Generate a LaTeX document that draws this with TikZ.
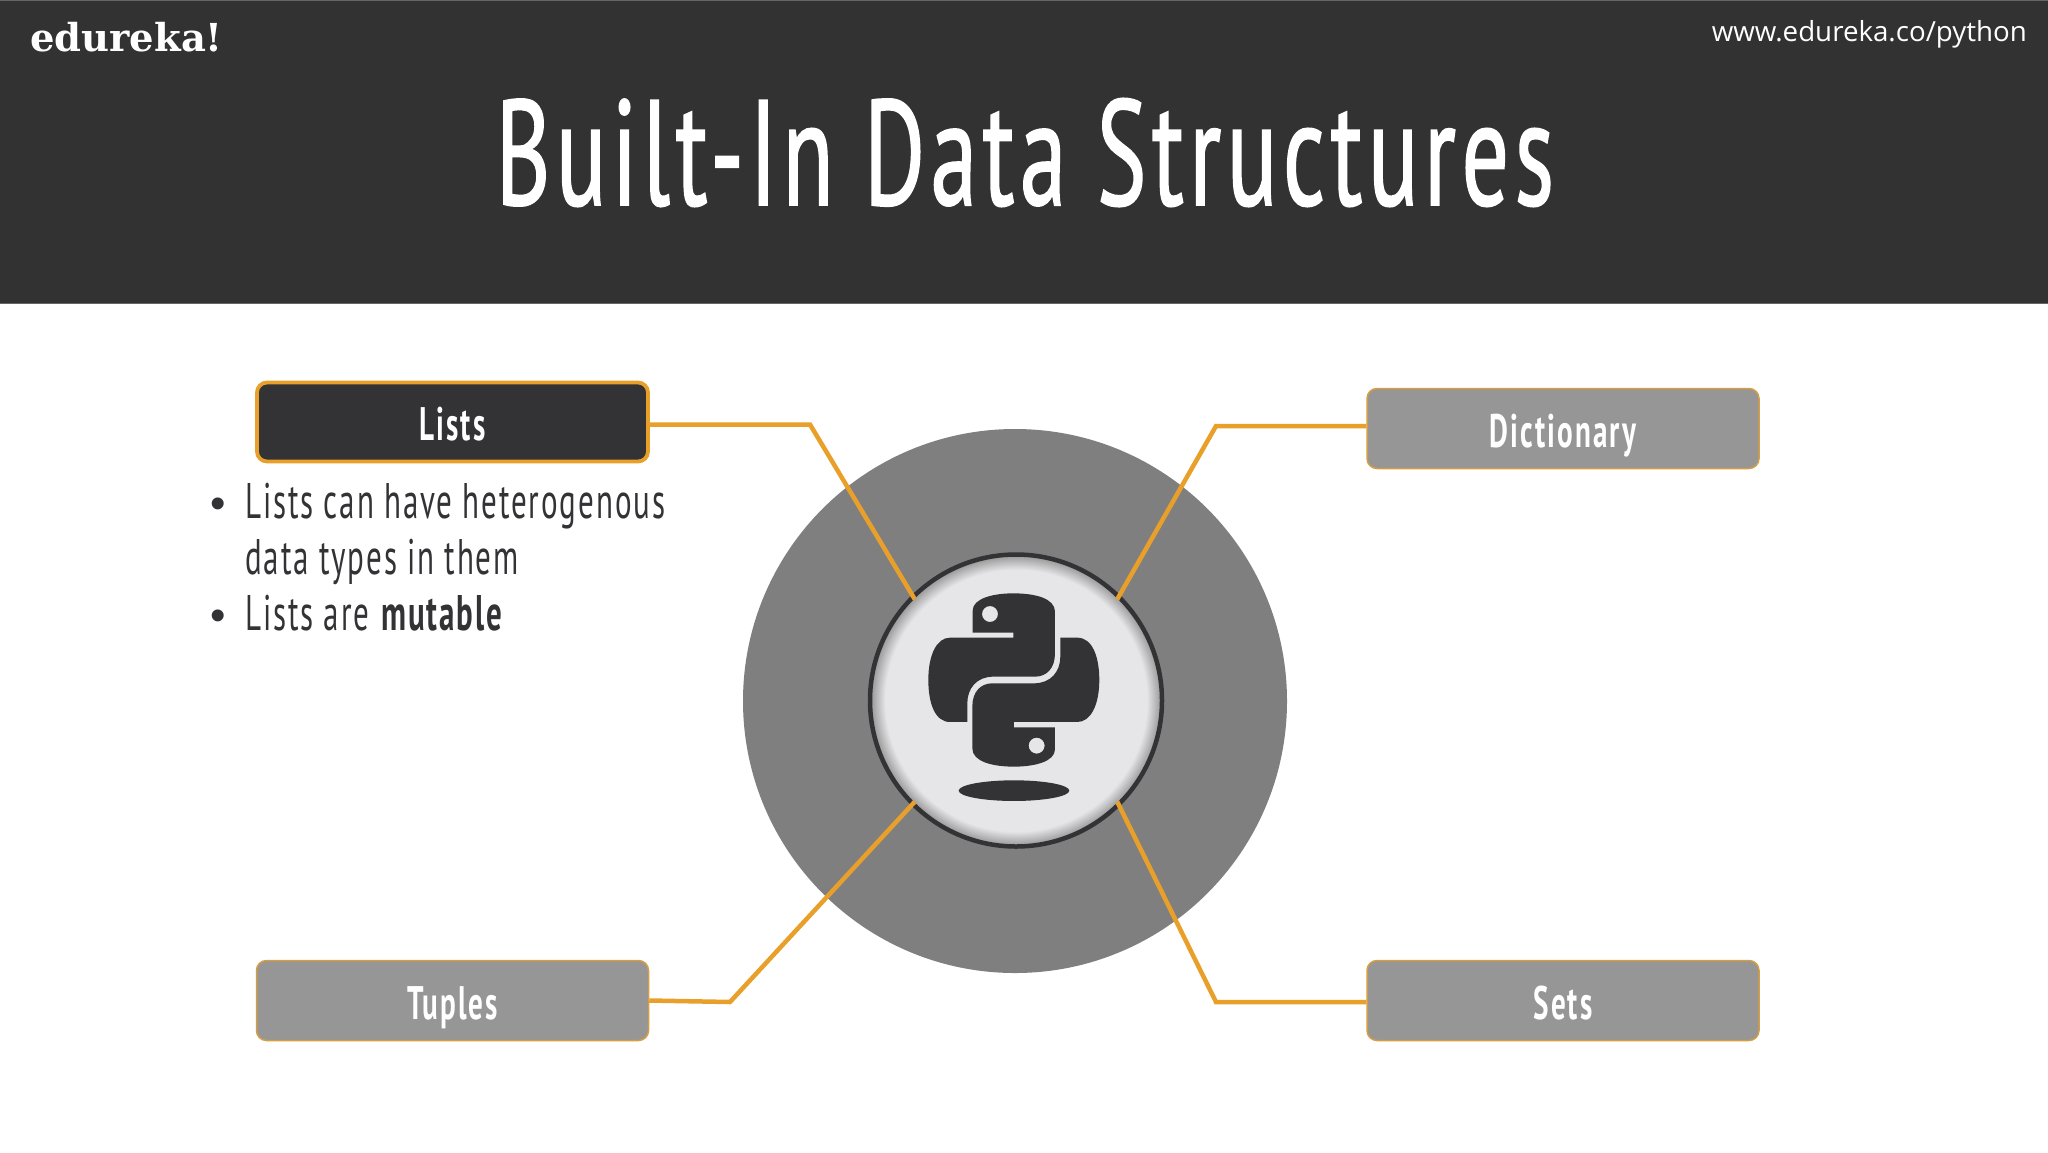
\documentclass[tikz,border=0pt]{standalone}
\usepackage{fontspec}
\usetikzlibrary{shapes.geometric}
\setmainfont{Liberation Sans}
\newfontfamily\agency[FakeStretch=0.62,LetterSpace=3.8]{PT Sans}
\newfontfamily\agencytitle[FakeStretch=0.62,LetterSpace=3.9,FakeBold=1]{PT Sans}
\newfontfamily\agencylab[FakeStretch=0.62,LetterSpace=4.4]{PT Sans}
\newfontfamily\slab{DejaVu Serif}
\newfontfamily\urlfont{Open Sans}
\definecolor{hdr}{HTML}{323232}
\definecolor{ink}{HTML}{333235}
\definecolor{ora}{HTML}{E9A02B}
\definecolor{boxg}{HTML}{969696}
\definecolor{disc}{HTML}{7F7F80}
\definecolor{lite}{HTML}{E6E5E8}
\pgfdeclareradialshading{vig}{\pgfpoint{0bp}{0bp}}{color(0bp)=(lite); color(22.4bp)=(lite); color(25bp)=(black!42)}
\tikzset{
 tagbox/.style={draw=ora!75!boxg,line width=1.5pt,fill=boxg,rounded corners=10pt,minimum width=392pt,minimum height=80pt,inner sep=0pt,text=white,font=\agencylab\bfseries\fontsize{47}{47}\selectfont,text height=37pt,text depth=0pt},
 tagact/.style={tagbox,draw=ora,line width=3.8pt,fill=ink,minimum width=391pt,minimum height=79pt},
 link/.style={draw=ora,line width=4.5pt,line join=miter},
 body/.style={anchor=base west,inner sep=0pt,text=ink,font=\agency\fontsize{50}{50}\selectfont},
 dot/.style={anchor=base,inner sep=0pt,text=ink,font=\fontsize{44}{44}\selectfont}
}
\begin{document}
\begin{tikzpicture}[x=1pt,y=-1pt]
\useasboundingbox (0,0) rectangle (2048,1152);
\fill[white] (0,0) rectangle (2048,1152);
\fill[hdr] (0,0) rectangle (2048,303);
\draw[black!60,line width=1.5pt] (0,303.5) -- (2048,303.5);
\draw[black!60,line width=1.5pt] (0,0.7) -- (2048,0.7);
\node[anchor=base west,inner sep=0pt,text=white,font=\slab\bfseries\fontsize{38.5}{38.5}\selectfont] (brand) at (30,51) {edureka!};
\node[anchor=base east,inner sep=0pt,text=white,font=\urlfont\fontsize{27.7}{27.7}\selectfont] (url) at (2027,41) {www.edureka.co/python};
\node[anchor=base,inner sep=0pt,text=white,font=\agencytitle\fontsize{150}{150}\selectfont] (title) at (1025,205) {Built-In Data Structures};
\node[circle,fill=disc,minimum size=544pt,inner sep=0pt] (disc) at (1015,701) {};
\coordinate (bl) at (810,424.5);
\coordinate (bd) at (1216,426);
\coordinate (bt) at (730,1002);
\coordinate (bs) at (1216,1002);
\node[circle,minimum size=286pt,inner sep=0pt] (hub) at (1016,700.5) {};
\shade[shading=vig] (1016,700.5) circle (146pt);
\draw[ink,line width=4.5pt] (1016,700.5) circle (146pt);
\node[tagact] (lists) at (452.5,422) {Lists};
\node[tagbox] (dict) at (1563,428.5) {Dictionary};
\node[tagbox] (tuples) at (452.5,1000.5) {Tuples};
\node[tagbox] (sets) at (1563,1000.5) {Sets};
\draw[link] (lists.east |- bl) -- (bl) -- (hub.135);
\draw[link] (dict.west |- bd) -- (bd) -- (hub.45);
\draw[link] (tuples.east) -- (bt) -- (hub.225);
\draw[link] (sets.west |- bs) -- (bs) -- (hub.315);
\begin{scope}[shift={(850,540)},x=0.3333pt,y=-0.3333pt]
 \fill[ink,even odd rule] (490,278) -- (368,278) -- (368,212) .. controls (368,175) and (430,160) .. (490,160) .. controls (555,160) and (615,175) .. (615,215) -- (615,340) .. controls (615,385) and (590,410) .. (555,410) -- (430,410) .. controls (380,410) and (352,445) .. (352,490) -- (352,546) -- (300,546) .. controls (255,546) and (235,490) .. (235,420) .. controls (235,345) and (260,293) .. (300,293) -- (490,293) -- cycle (444,222) arc[start angle=0,end angle=360,radius=24];
 \fill[ink,even odd rule] (492,562) -- (615,562) -- (615,628) .. controls (615,665) and (553,680) .. (492,680) .. controls (428,680) and (367,665) .. (367,625) -- (367,500) .. controls (367,455) and (392,430) .. (427,430) -- (552,430) .. controls (602,430) and (631,395) .. (631,350) -- (631,293) -- (682,293) .. controls (727,293) and (748,350) .. (748,420) .. controls (748,495) and (722,546) .. (682,546) -- (492,546) -- cycle (584,617) arc[start angle=0,end angle=360,radius=24];
 \fill[ink] (492,752) ellipse[x radius=166,y radius=31];
\end{scope}
\node[dot] (b1) at (218,518) {•};
\node[body] (l1) at (245,518) {Lists can have heterogenous};
\node[body] (l2) at (245,574) {data types in them};
\node[dot] (b2) at (218,630) {•};
\node[body] (l3) at (245,630) {Lists are \textbf{mutable}};
\end{tikzpicture}
\end{document}
